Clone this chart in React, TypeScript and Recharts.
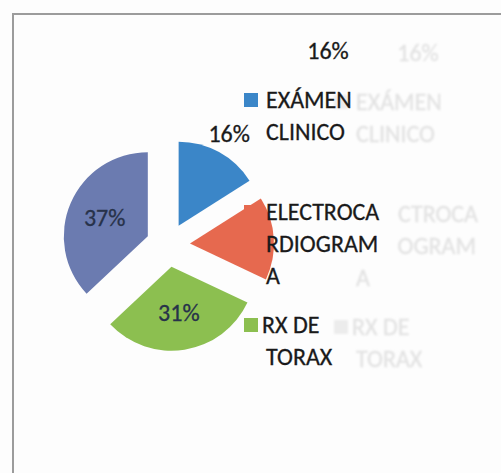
import React from 'react';
import { Cell, Pie, PieChart } from 'recharts';

const categories = ['EXÁMEN CLINICO', 'ELECTROCARDIOGRAMA', 'RX DE TORAX', 'OTROS'];
const values = [16, 16, 31, 37];
const colors = ['#3b86c8', '#e6694f', '#8cbf50', '#6b7bb0'];
// legend entries as they wrap in the picture (4th entry is cut off)
const legendLines = [['EXÁMEN', 'CLINICO'], ['ELECTROCA', 'RDIOGRAM', 'A'], ['RX DE', 'TORAX']];
// faint bleed-through copy on the right; only the part not hidden behind the real legend shows
const ghostLines = [['EXÁMEN', 'CLINICO'], ['CTROCA', 'OGRAM', 'A'], ['RX DE', 'TORAX']];

const W = 501;
const H = 473;
const CX = 168;
const CY = 245;
const R = 84;
const EXPLODE = 22;
const FONT = 'Carlito, Lato, "Noto Sans", sans-serif';
const FS = 24;

const data = categories.map((name, i) => ({ name, value: values[i] }));
const total = values.reduce((a, b) => a + b, 0);

function midAngle(i: number) {
  const before = values.slice(0, i).reduce((a, b) => a + b, 0);
  return 90 - (360 * (before + values[i] / 2)) / total;
}

const rowY = [108, 220, 333];

function LegendBlock({ dx, dy, lines, ghost }: { dx: number; dy: number; lines: string[][]; ghost?: boolean }) {
  const text = ghost ? '#e2e2e2' : '#1a1a1a';
  return (
    <g transform={`translate(${dx},${dy})`}>
      {lines.map((rowLines, i) => (
        <g key={i}>
          {!(ghost && i === 1) && (
            <rect x={244} y={rowY[i] - 15} width={14} height={14} fill={ghost ? '#ececec' : colors[i]} />
          )}
          {rowLines.map((ln, j) => {
            const tail = ghost && i === 1 && j < 2;
            return (
              <text
                key={j}
                x={tail ? (j === 0 ? 388 : 386) : i === 2 && j === 0 ? 262 : 266}
                y={rowY[i] + j * 32}
                textAnchor={tail ? 'end' : 'start'}
                fontSize={FS}
                fontWeight={500}
                fontFamily={FONT}
                fill={text}
                stroke={text}
                strokeWidth={0.3}
              >
                {ln}
              </text>
            );
          })}
        </g>
      ))}
      <text x={328} y={59} textAnchor="middle" fontSize={FS} fontWeight={500} fontFamily={FONT} fill={text} stroke={text} strokeWidth={0.3}>
        {`${values[1]}%`}
      </text>
    </g>
  );
}

export default function App() {
  return (
    <div style={{ position: 'absolute', left: 0, top: 0, width: W, height: H, background: '#fdfdfd', overflow: 'hidden' }}>
      <PieChart width={W} height={H} margin={{ top: 0, right: 0, bottom: 0, left: 0 }}>
        {data.map((_, k) => {
          const a = (midAngle(k) * Math.PI) / 180;
          const cx = CX + EXPLODE * Math.cos(a);
          const cy = CY - EXPLODE * Math.sin(a);
          return (
            <Pie
              key={k}
              data={data}
              dataKey="value"
              nameKey="name"
              cx={cx}
              cy={cy}
              outerRadius={R}
              startAngle={90}
              endAngle={-270}
              stroke="none"
              isAnimationActive={false}
              labelLine={false}
              label={(p: any) => {
                if (p.index !== k || k === 1) return null;
                const m = (p.midAngle * Math.PI) / 180;
                const rr = k === 0 ? R + 21 : R * 0.56;
                const x = p.cx + rr * Math.cos(m);
                const y = p.cy - rr * Math.sin(m);
                const c = k === 0 ? '#1a1a1a' : '#27324a';
                return (
                  <text x={x} y={y} dy={8} textAnchor="middle" fontSize={FS} fontWeight={500} fontFamily={FONT} fill={c} stroke={c} strokeWidth={0.3}>
                    {`${values[k]}%`}
                  </text>
                );
              }}
            >
              {data.map((d, j) => (
                <Cell key={d.name} fill={j === k ? colors[j] : 'none'} />
              ))}
            </Pie>
          );
        })}
      </PieChart>
      <svg width={W} height={H} style={{ position: 'absolute', left: 0, top: 0 }}>
        <defs>
          <filter id="blur">
            <feGaussianBlur stdDeviation="1.3" />
          </filter>
        </defs>
        <rect x={13} y={14} width={W} height={H} fill="none" stroke="#9c9c9c" strokeWidth={2} />
        <g filter="url(#blur)">
          <LegendBlock dx={90} dy={2} lines={ghostLines} ghost />
        </g>
        <LegendBlock dx={0} dy={0} lines={legendLines} />
      </svg>
    </div>
  );
}
